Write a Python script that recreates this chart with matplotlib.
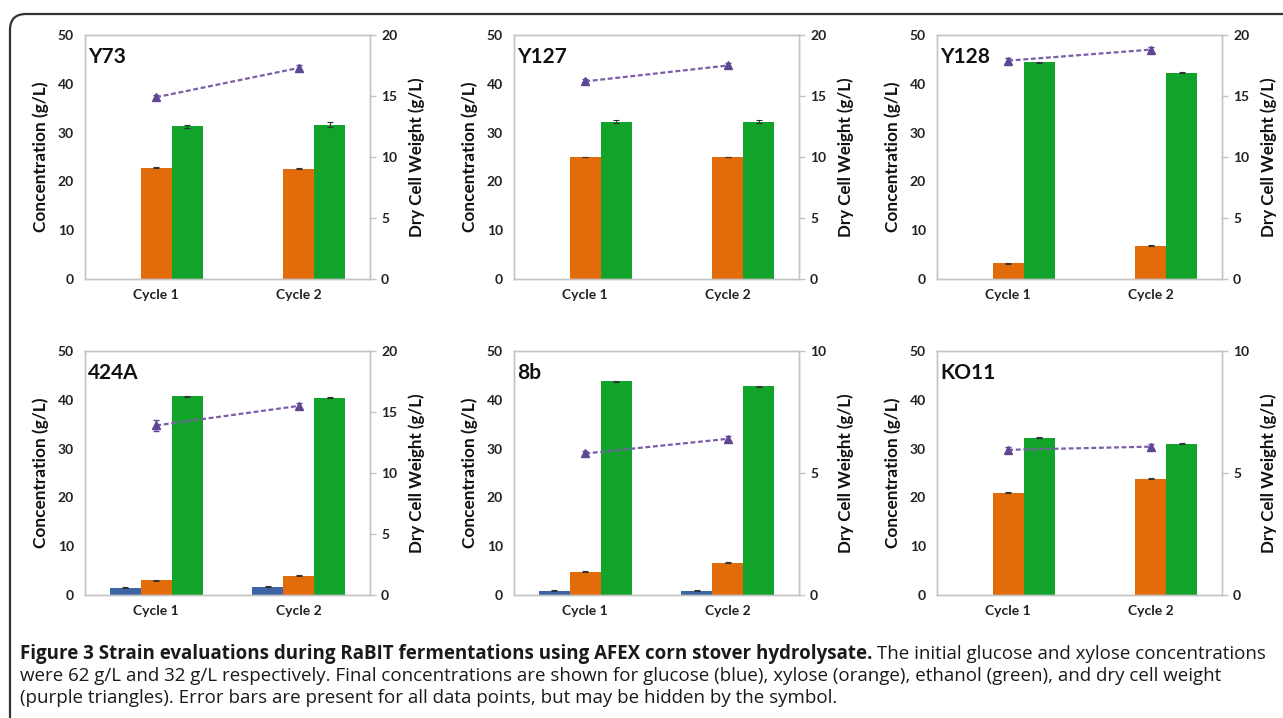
import numpy as np
import matplotlib.pyplot as plt
from matplotlib.patches import FancyBboxPatch
from matplotlib.transforms import IdentityTransform

strains = ["Y73", "Y127", "Y128", "424A", "8b", "KO11"]
cycles = ["Cycle 1", "Cycle 2"]

glucose = [[0, 0], [0, 0], [0, 0], [1.5, 1.7], [0.9, 0.9], [0, 0]]
glucose_err = [[0, 0], [0, 0], [0, 0], [0.05, 0.05], [0.05, 0.05], [0, 0]]
xylose = [[22.8, 22.6], [25.0, 25.0], [3.2, 6.8], [3.0, 3.9], [4.8, 6.6], [21.0, 23.8]]
xylose_err = [[0.1, 0.1], [0.1, 0.1], [0.1, 0.1], [0.1, 0.1], [0.1, 0.1], [0.1, 0.1]]
ethanol = [[31.3, 31.6], [32.2, 32.2], [44.4, 42.3], [40.7, 40.4], [43.8, 42.8], [32.2, 31.0]]
ethanol_err = [[0.3, 0.5], [0.3, 0.3], [0.1, 0.1], [0.1, 0.1], [0.1, 0.1], [0.1, 0.1]]
dcw = [[14.9, 17.3], [16.2, 17.5], [17.9, 18.8], [13.9, 15.5], [5.8, 6.4], [5.95, 6.08]]
dcw_err = [[0.2, 0.2], [0.2, 0.2], [0.2, 0.2], [0.45, 0.25], [0.1, 0.1], [0.1, 0.1]]
dcw_max = [20, 20, 20, 20, 10, 10]

c_glu = "#3d65a3"
c_xyl = "#e36c0a"
c_eth = "#12a32b"
c_dcw = "#7a5fa8"
c_axis = "#c4c4c4"

W, H = 1283, 718
fig = plt.figure(figsize=(W / 100, H / 100), dpi=100)
chart_font = "Lato"

lefts = [85, 514, 937]
tops = [35, 351]
aw, ah = 285, 244

x = np.arange(len(cycles))
bw = 0.217

for i, name in enumerate(strains):
    r, c = divmod(i, 3)
    ax = fig.add_axes([lefts[c] / W, 1 - (tops[r] + ah) / H, aw / W, ah / H])
    ax2 = ax.twinx()

    ek = dict(elinewidth=0.8, ecolor="#333333", capsize=2, capthick=0.8)
    if max(glucose[i]) > 0:
        ax.bar(x - bw, glucose[i], bw, color=c_glu, yerr=glucose_err[i], error_kw=ek)
    ax.bar(x, xylose[i], bw, color=c_xyl, yerr=xylose_err[i], error_kw=ek)
    ax.bar(x + bw, ethanol[i], bw, color=c_eth, yerr=ethanol_err[i], error_kw=ek)

    ax2.errorbar(x, dcw[i], yerr=dcw_err[i], color=c_dcw, ls=(0, (2.2, 1.2)), lw=1.6,
                 marker="^", ms=6, mfc="#5e4692", mec="#5e4692",
                 ecolor="#5e4692", elinewidth=0.8, capsize=2)

    ax.set_xlim(-0.5, 1.5)
    ax.set_ylim(0, 50)
    ax.set_yticks([0, 10, 20, 30, 40, 50])
    ax2.set_ylim(0, dcw_max[i])
    ax2.set_yticks(np.arange(0, dcw_max[i] + 1, 5))
    ax.set_xticks(x)
    ax.set_xticklabels(cycles)

    for a in (ax, ax2):
        for s in a.spines.values():
            s.set_color(c_axis)
            s.set_linewidth(1)
    ax.tick_params(axis="y", length=0, pad=8, labelsize=10, colors="#222222")
    ax.tick_params(axis="x", length=0, pad=7, labelsize=10, colors="#222222")
    ax2.tick_params(axis="y", length=4, width=1, color=c_axis, pad=4,
                    labelsize=10, labelcolor="#222222")
    for t in ax.get_xticklabels() + ax.get_yticklabels() + ax2.get_yticklabels():
        t.set_fontfamily(chart_font)
        t.set_fontweight("bold")

    ax.set_ylabel("Concentration (g/L)", fontsize=12.4, fontweight="bold",
                  family=chart_font, labelpad=6, color="#111111")
    ax2.set_ylabel("Dry Cell Weight (g/L)", fontsize=12.2, fontweight="bold",
                   family=chart_font, labelpad=8, color="#111111")
    ax.text(0.012, 0.95, name, transform=ax.transAxes, ha="left", va="top",
            fontsize=15, fontweight="bold", family=chart_font, color="#111111")

# rounded frame
frame = FancyBboxPatch((10, -60), 1400, H - 14 + 60,
                       boxstyle="round,pad=0,rounding_size=16",
                       fill=False, ec="#333333", lw=1.6, transform=IdentityTransform())
fig.add_artist(frame)

cap_font = "Open Sans"
cap_size = 13.5
renderer = fig.canvas.get_renderer()
y1 = 1 - 654 / H
t1 = fig.text(20 / W, y1, "Figure 3 Strain evaluations during RaBIT fermentations using AFEX corn stover hydrolysate.",
              fontsize=cap_size, fontweight="bold", family=cap_font, va="center", color="#1a1a1a")
bb = t1.get_window_extent(renderer)
fig.text(bb.x1 / W, y1, " The initial glucose and xylose concentrations",
         fontsize=cap_size, family=cap_font, va="center", color="#1a1a1a")
fig.text(20 / W, 1 - 676 / H,
         "were 62 g/L and 32 g/L respectively. Final concentrations are shown for glucose (blue), xylose (orange), ethanol (green), and dry cell weight",
         fontsize=cap_size, family=cap_font, va="center", color="#1a1a1a")
fig.text(20 / W, 1 - 698 / H,
         "(purple triangles). Error bars are present for all data points, but may be hidden by the symbol.",
         fontsize=cap_size, family=cap_font, va="center", color="#1a1a1a")

fig.savefig("out.png", dpi=100)
